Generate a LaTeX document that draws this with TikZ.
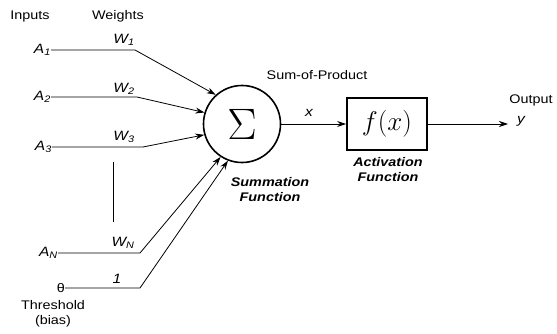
\RequirePackage{fix-cm}
\documentclass[tikz,border=0pt]{standalone}
\usepackage{fontspec}
\setmainfont{Liberation Sans}[FakeStretch=1.15]
\usetikzlibrary{arrows.meta}
\begin{document}
\begin{tikzpicture}[
    x=1pt, y=-1pt,
    lbl/.style={font=\fontsize{12.5}{14.5}\selectfont, inner sep=0pt},
    inlbl/.style={font=\fontsize{13.5}{14}\selectfont\itshape, inner sep=0pt},
    caption/.style={font=\fontsize{12.5}{15}\selectfont\bfseries\itshape, align=center, inner sep=0pt},
    wire/.style={line width=0.8pt},
    arrow/.style={-{Stealth[length=9pt,width=6pt]}, line width=0.8pt}
]
    \useasboundingbox (0,0) rectangle (557,334);

    \node[circle, draw, line width=1.6pt, minimum size=77pt, inner sep=0pt] (sum) at (242,124) {\fontsize{44}{44}\selectfont$\Sigma$};
    \node[rectangle, draw, line width=1.6pt, minimum width=80pt, minimum height=52pt, inner sep=0pt] (act) at (387,124) {\fontsize{27}{27}\selectfont$f(x)$};

    \node[lbl] (inputs) at (30,16) {Inputs};
    \node[lbl] (weights) at (118,16) {Weights};

    \node[inlbl, anchor=east] (a1) at (51,50) {A\textsubscript{1}};
    \node[inlbl, anchor=east] (a2) at (51,97) {A\textsubscript{2}};
    \node[inlbl, anchor=east] (a3) at (52,147) {A\textsubscript{3}};
    \node[inlbl, anchor=east] (an) at (58,253) {A\textsubscript{N}};
    \node[lbl, anchor=east] (theta) at (65,288) {θ};
    \node[lbl, align=center] (thr) at (53,314) {Threshold\\(bias)};

    \node[inlbl] (w1) at (124,40) {W\textsubscript{1}};
    \node[inlbl] (w2) at (124,89) {W\textsubscript{2}};
    \node[inlbl] (w3) at (124,137) {W\textsubscript{3}};
    \node[inlbl] (wn) at (123,243) {W\textsubscript{N}};
    \node[inlbl] (one) at (117,279) {1};

    \coordinate (b1) at (135,50);
    \coordinate (b2) at (137,97);
    \coordinate (b3) at (143,147);
    \coordinate (bn) at (140,253);
    \coordinate (bt) at (140,288);
    \coordinate (vtop) at (113,162);
    \coordinate (vbot) at (113,222);

    \draw[arrow] (a1.east) -- (b1) -- (sum.132);
    \draw[arrow] (a2.east) -- (b2) -- (sum.163);
    \draw[arrow] (a3.east) -- (b3) -- (sum.196);
    \draw[arrow] (an.east) -- (bn) -- (sum.237);
    \draw[arrow] (theta.east) -- (bt) -- (sum.249);
    \draw[wire] (vtop) -- (vbot);

    \node[lbl] (sop) at (317,75) {Sum-of-Product};
    \node[inlbl] (xlbl) at (309,113) {x};
    \node[caption] (sumcap) at (270,190) {Summation\\Function};
    \node[caption] (actcap) at (388,170) {Activation\\Function};

    \coordinate (out) at (508,124);
    \node[lbl] (outlbl) at (531,100) {Output};
    \node[inlbl] (ylbl) at (521,121) {y};

    \draw[arrow] (sum) -- (act);
    \draw[arrow] (act) -- (out);
\end{tikzpicture}
\end{document}
